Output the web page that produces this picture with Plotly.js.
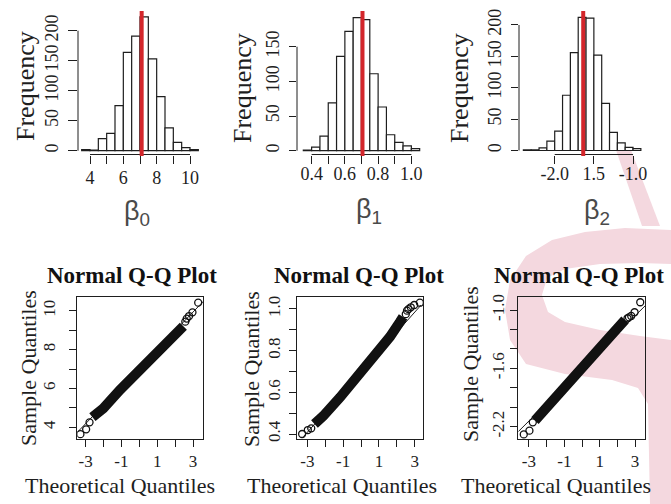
<!DOCTYPE html>
<html><head><meta charset="utf-8">
<script src="https://cdn.plot.ly/plotly-3.0.1.min.js"></script>
<style>html,body{margin:0;padding:0;background:#fff;}#chart{width:671px;height:504px;}</style>
</head><body><div id="chart"></div>
<script>
// ---------- Histogram data (bin centres, counts, estimate) ----------
const b0_bins = [3.75,4.25,4.75,5.25,5.75,6.25,6.75,7.25,7.75,8.25,8.75,9.25,9.75,10.25];
const b0_counts = [2,1,20,29,75,164,191,223,153,90,38,14,5,2];
const b0_binw = 0.5;
const b0_est = 7.1;
const b0_xticks = [4,6,8,10];
const b0_xminor = [5,7,9];
const b0_yticks = [0,50,100,150,200];

const b1_bins = [0.375,0.425,0.475,0.525,0.575,0.625,0.675,0.725,0.775,0.825,0.875,0.925,0.975,1.025];
const b1_counts = [1,5,21,69,136,172,192,189,111,63,23,12,7,3];
const b1_binw = 0.05;
const b1_est = 0.706;
const b1_xticks = [0.4,0.6,0.8,1.0];
const b1_xlabels = ['0.4','0.6','0.8','1.0'];
const b1_xminor = [0.5,0.7,0.9];
const b1_yticks = [0,50,100,150];

const b2_bins = [-2.35,-2.25,-2.15,-2.05,-1.95,-1.85,-1.75,-1.65,-1.55,-1.45,-1.35,-1.25,-1.15,-1.05,-0.95];
const b2_counts = [1,1,4,15,31,88,156,212,211,152,75,29,12,5,3];
const b2_binw = 0.1;
const b2_est = -1.636;
const b2_xticks = [-2.0,-1.5,-1.0];
const b2_xlabels = ['-2.0','1.5','-1.0'];
const b2_yticks = [0,50,100,150,200];

// ---------- Q-Q data ----------
const q0_tail_x = [-3.29,-2.97,-2.78, 2.57,2.65,2.78,2.97,3.29];
const q0_tail_y = [3.64,3.89,4.25, 9.44,9.60,9.73,9.92,10.42];
const q0_band_x = [-2.62,-2.01,-1.08,-0.15,0.78,1.72,2.46];
const q0_band_y = [4.52,4.97,5.92,6.78,7.63,8.53,9.20];
const q0_line_x = [-3.46,3.58];
const q0_line_y = [3.74,10.49];
const q0_yticks = [4,6,8,10];
const q0_yminor = [5,7,9];

const q1_tail_x = [-3.29,-2.97,-2.78, 2.50,2.57,2.65,2.78,2.97,3.29];
const q1_tail_y = [0.40,0.419,0.427, 0.975,0.992,0.999,1.008,1.019,1.03];
const q1_band_x = [-2.60,-2.11,-1.17,-0.24,0.69,1.62,2.18,2.35];
const q1_band_y = [0.448,0.486,0.576,0.667,0.763,0.867,0.939,0.962];
const q1_line_x = [-3.22,3.36];
const q1_line_y = [0.387,1.019];
const q1_yticks = [0.4,0.6,0.8,1.0];
const q1_ylabels = ['0.4','0.6','0.8','1.0'];
const q1_yminor = [0.5,0.7,0.9];

const q2_tail_x = [-3.29,-2.97,-2.78, 2.57,2.65,2.78,2.97,3.29];
const q2_tail_y = [-2.28,-2.241,-2.155, -1.085,-1.075,-1.061,-1.023,-0.92];
const q2_band_x = [-2.66,-2.19,-1.24,-0.30,0.64,1.58,2.43];
const q2_band_y = [-2.138,-2.046,-1.840,-1.651,-1.462,-1.274,-1.102];
const q2_line_x = [-3.60,3.56];
const q2_line_y = [-2.251,-0.958];
const q2_yticks = [-2.2,-1.6,-1.0];
const q2_ylabels = ['-2.2','-1.6','-1.0'];
const q2_yminor = [-2.0,-1.8,-1.4,-1.2];

const qq_xticks = [-3,-1,1,3];
const qq_xminor = [-2,0,2];

const beta_labels = ['β<sub>0</sub>','β<sub>1</sub>','β<sub>2</sub>'];

// ---------- layout helpers ----------
const W = 671, H = 504;
const fx = p => p / W;
const fy = p => 1 - p / H;
const SERIF = 'Liberation Serif';
const SANS = 'Liberation Sans';
const INK = '#1e1e1e';
const tickFont = {family: SERIF, size: 18, color: INK};
const qqTickFont = {family: SERIF, size: 17, color: INK};

function minorSpec(vals, len) {
  return {tickmode: 'array', tickvals: vals, ticks: 'outside', ticklen: len, tickwidth: 1, tickcolor: INK, showgrid: false};
}
function histX(domPx, range, tv, tt, mv, standoff) {
  return {domain: [fx(domPx[0]), fx(domPx[1])], range: range, showgrid: false, zeroline: false,
    showline: false, ticks: 'outside', ticklen: 8, tickwidth: 1, tickcolor: INK,
    tickmode: 'array', tickvals: tv, ticktext: tt, tickfont: tickFont, ticklabelstandoff: standoff,
    minor: mv ? minorSpec(mv, 8) : undefined, fixedrange: true};
}
function histY(domPx, range, tv, len, standoff) {
  return {domain: [fy(domPx[1]), fy(domPx[0])], range: range, showgrid: false, zeroline: false,
    showline: false, ticks: 'outside', ticklen: len, tickwidth: 1, tickcolor: INK,
    tickmode: 'array', tickvals: tv, ticktext: tv.map(String), tickangle: -90, tickfont: tickFont,
    ticklabelstandoff: standoff, fixedrange: true};
}
function qqX(domPx, range) {
  return {domain: [fx(domPx[0]), fx(domPx[1])], range: range, showgrid: false, zeroline: false,
    showline: true, mirror: true, linecolor: INK, linewidth: 1, ticks: 'outside', ticklen: 7,
    tickwidth: 1, tickcolor: INK, tickmode: 'array', tickvals: qq_xticks, ticktext: qq_xticks.map(String),
    tickfont: qqTickFont, ticklabelstandoff: 0, minor: minorSpec(qq_xminor, 7), fixedrange: true};
}
function qqY(domPx, range, tv, tt, mv, standoff) {
  return {domain: [fy(domPx[1]), fy(domPx[0])], range: range, showgrid: false, zeroline: false,
    showline: true, mirror: true, linecolor: INK, linewidth: 1, ticks: 'outside', ticklen: 7,
    tickwidth: 1, tickcolor: INK, tickmode: 'array', tickvals: tv, ticktext: tt, tickangle: -90, tickfont: qqTickFont,
    ticklabelstandoff: standoff, minor: minorSpec(mv, 7), fixedrange: true};
}

const traces = [];
function addHist(bins, counts, w, ax) {
  traces.push({type: 'bar', x: bins, y: counts, width: w, xaxis: 'x' + ax, yaxis: 'y' + ax,
    marker: {color: 'white', line: {color: INK, width: 1.2}}, hoverinfo: 'skip'});
}
function addQQ(tx, ty, bx, by, lx, ly, ax) {
  traces.push({type: 'scatter', mode: 'lines', x: lx, y: ly, xaxis: 'x' + ax, yaxis: 'y' + ax,
    line: {color: INK, width: 1}, hoverinfo: 'skip'});
  traces.push({type: 'scatter', mode: 'lines', x: bx, y: by, xaxis: 'x' + ax, yaxis: 'y' + ax,
    line: {color: '#111', width: 10}, hoverinfo: 'skip'});
  traces.push({type: 'scatter', mode: 'markers', x: tx, y: ty, xaxis: 'x' + ax, yaxis: 'y' + ax,
    marker: {symbol: 'circle-open', size: 7, color: '#111', line: {width: 1.3}}, hoverinfo: 'skip'});
}
addHist(b0_bins, b0_counts, b0_binw, '');
addHist(b1_bins, b1_counts, b1_binw, '2');
addHist(b2_bins, b2_counts, b2_binw, '3');
addQQ(q0_tail_x, q0_tail_y, q0_band_x, q0_band_y, q0_line_x, q0_line_y, '4');
addQQ(q1_tail_x, q1_tail_y, q1_band_x, q1_band_y, q1_line_x, q1_line_y, '5');
addQQ(q2_tail_x, q2_tail_y, q2_band_x, q2_band_y, q2_line_x, q2_line_y, '6');

// watermark (light pink "S" stroke) in pixel coordinates
function pathPx(pts) {
  return pts.map((p, i) => (i ? 'L' : 'M') + fx(p[0]).toFixed(4) + ',' + fy(p[1]).toFixed(4)).join(' ') + ' Z';
}
const wmBody = [[671,230],[625,228],[585,232],[552,240],[526,256],[510,280],[505,310],[510,340],[526,364],
  [565,374],[612,380],[638,388],[648,404],[650,504],[671,504],[671,340],[640,336],[600,330],[565,322],
  [548,312],[542,295],[547,278],[565,269],[600,264],[640,263],[671,264]];
const wmStreak = [[616,150],[631,150],[660,226],[642,226]];
const WM = '#f4d8df';

const shapes = [
  {type: 'path', xref: 'paper', yref: 'paper', path: pathPx(wmBody), fillcolor: WM, line: {width: 0}, layer: 'below'},
  {type: 'path', xref: 'paper', yref: 'paper', path: pathPx(wmStreak), fillcolor: WM, line: {width: 0}, layer: 'below'}
];
// R-style axis lines for histograms + red estimate lines
[[b0_xticks, b0_yticks, b0_est, ''], [b1_xticks, b1_yticks, b1_est, '2'], [b2_xticks, b2_yticks, b2_est, '3']].forEach(([xt, yt, est, ax]) => {
  shapes.push({type: 'line', xref: 'x' + ax, yref: 'y' + ax + ' domain', x0: xt[0], x1: xt[xt.length - 1], y0: 0, y1: 0, line: {color: INK, width: 1}});
  shapes.push({type: 'line', xref: 'x' + ax + ' domain', yref: 'y' + ax, x0: 0, x1: 0, y0: yt[0], y1: yt[yt.length - 1], line: {color: INK, width: 1}});
  shapes.push({type: 'line', xref: 'x' + ax, yref: 'y' + ax + ' domain', x0: est, x1: est, y0: -0.01, y1: 1, line: {color: '#d3262b', width: 4}});
});

function ann(text, xpx, ypx, font, angle) {
  return {text: text, x: fx(xpx), y: fy(ypx), xref: 'paper', yref: 'paper', xanchor: 'center', yanchor: 'middle',
    showarrow: false, font: font, textangle: angle || 0};
}
const labFont = {family: SERIF, size: 26, color: INK};
const axFont = {family: SERIF, size: 22, color: INK};
const titleFont = {family: SERIF, size: 23, color: '#111', weight: 'bold'};
const betaFont = {family: SANS, size: 27, color: '#4a4a4a'};
const annotations = [
  ann('Frequency', 25, 86, labFont, -90), ann('Frequency', 242, 88, labFont, -90), ann('Frequency', 459, 88, labFont, -90),
  ann(beta_labels[0], 137, 213, betaFont), ann(beta_labels[1], 369, 211, betaFont), ann(beta_labels[2], 597, 212, betaFont),
  ann('<b>Normal Q-Q Plot</b>', 132, 275, titleFont), ann('<b>Normal Q-Q Plot</b>', 359, 275, titleFont), ann('<b>Normal Q-Q Plot</b>', 579, 275, titleFont),
  ann('Theoretical Quantiles', 120, 485, axFont), ann('Theoretical Quantiles', 342, 485, axFont), ann('Theoretical Quantiles', 556, 485, axFont),
  ann('Sample Quantiles', 28, 368, axFont, -90), ann('Sample Quantiles', 251, 369, axFont, -90), ann('Sample Quantiles', 470, 364, axFont, -90)
];

const layout = {
  width: W, height: H, autosize: false, showlegend: false,
  font: {family: SERIF, color: INK},
  margin: {l: 0, r: 0, t: 0, b: 0, pad: 0},
  paper_bgcolor: '#ffffff', plot_bgcolor: 'rgba(0,0,0,0)',
  xaxis: Object.assign(histX([78, 200], [3.28, 10.6], b0_xticks, b0_xticks.map(String), b0_xminor, -1), {anchor: 'y'}),
  yaxis: Object.assign(histY([11, 154.5], [-6.3, 232.8], b0_yticks, 9, 3), {anchor: 'x'}),
  xaxis2: Object.assign(histX([297, 422], [0.312, 1.064], b1_xticks, b1_xlabels, b1_xminor, -5), {anchor: 'y2'}),
  yaxis2: Object.assign(histY([11, 154.5], [-5.5, 201.5], b1_yticks, 7, 3), {anchor: 'x2'}),
  xaxis3: Object.assign(histX([519, 644], [-2.456, -0.86], b2_xticks, b2_xlabels, null, -5), {anchor: 'y3'}),
  yaxis3: Object.assign(histY([11, 154.5], [-6.4, 222.3], b2_yticks, 7, 3), {anchor: 'x3'}),
  xaxis4: Object.assign(qqX([77.3, 203.3], [-3.464, 3.575]), {anchor: 'y4'}),
  yaxis4: Object.assign(qqY([297.3, 439], [3.392, 10.696], q0_yticks, q0_yticks.map(String), q0_yminor, 8), {anchor: 'x4'}),
  xaxis5: Object.assign(qqX([297.3, 423.3], [-3.559, 3.48]), {anchor: 'y5'}),
  yaxis5: Object.assign(qqY([297.3, 439], [0.376, 1.056], q1_yticks, q1_ylabels, q1_yminor, 3), {anchor: 'x5'}),
  xaxis6: Object.assign(qqX([518.3, 645], [-3.599, 3.559]), {anchor: 'y6'}),
  yaxis6: Object.assign(qqY([296.7, 439], [-2.327, -0.863], q2_yticks, q2_ylabels, q2_yminor, 0), {anchor: 'x6'}),
  shapes: shapes,
  annotations: annotations
};
Plotly.newPlot('chart', traces, layout, {staticPlot: true, displayModeBar: false});
</script>
</body></html>
